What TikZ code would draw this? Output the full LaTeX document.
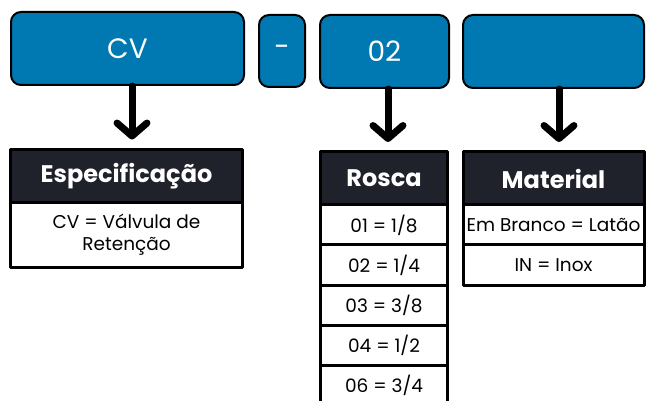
\documentclass[tikz,border=0pt]{standalone}
\usepackage{fontspec}
\setmainfont{Poppins}
\usetikzlibrary{positioning,arrows.meta}
\definecolor{codeblue}{RGB}{0,121,178}
\definecolor{headdark}{RGB}{32,34,43}
\begin{document}
\begin{tikzpicture}[line cap=round, line join=round, x=1pt, y=-1pt, >={Straight Barb[round,length=13pt,width=30pt]}]
	\tikzset{codebox/.style={draw=black, line width=2pt, fill=codeblue, rounded corners=10pt, text=white, minimum height=73pt, inner sep=0pt, font=\fontsize{28}{30}\selectfont},
		headbox/.style={draw=black, line width=3pt, fill=headdark, text=white, minimum height=53pt, inner sep=0pt, outer sep=0pt, font=\fontsize{24}{27}\selectfont\bfseries},
		cellbox/.style={draw=black, line width=3pt, fill=white, minimum height=40pt, inner sep=0pt, outer sep=0pt, font=\fontsize{18.5}{22}\selectfont},
		arrowline/.style={->, line width=7pt, shorten >=10pt}}
	\useasboundingbox (0,0) rectangle (646,401);
	% codigo
	\node[codebox, minimum width=233pt] (cv) at (127.5,48.5) {CV};
	\node[codebox, minimum width=46pt, minimum height=72pt] (dash) at (282,51) {-};
	\node[codebox, minimum width=129pt] (rcode) at (384.5,51.5) {02};
	\node[codebox, minimum width=181pt] (mcode) at (553.5,51.5) {};
	% tabelas
	\node[headbox, minimum width=232pt] (spec) at (126.5,176) {Especificação};
	\node[cellbox, minimum width=232pt, minimum height=65pt, align=center, below=0pt of spec] (specbody) {CV = Válvula de\\Retenção};
	\node[headbox, minimum width=127pt, alias=r0] (rosca) at (384,178.5) {Rosca};
	\foreach \t [count=\i, remember=\i as \j (initially 0)] in {01 = 1/8, 02 = 1/4, 03 = 3/8, 04 = 1/2, 06 = 3/4}
		\node[cellbox, minimum width=127pt, below=0pt of r\j] (r\i) {\t};
	\node[headbox, minimum width=181pt] (material) at (553.5,178.5) {Material};
	\node[cellbox, minimum width=181pt, below=0pt of material] (m1) {Em Branco = Latão};
	\node[cellbox, minimum width=181pt, below=0pt of m1] (m2) {IN = Inox};
	% setas
	\draw[arrowline] ([xshift=4.5pt]cv.south) -- ([xshift=5.5pt]spec.north);
	\draw[arrowline] ([xshift=3.5pt]rcode.south) -- ([xshift=4pt]rosca.north);
	\draw[arrowline] ([xshift=5.5pt]mcode.south) -- ([xshift=5.5pt]material.north);
\end{tikzpicture}
\end{document}
